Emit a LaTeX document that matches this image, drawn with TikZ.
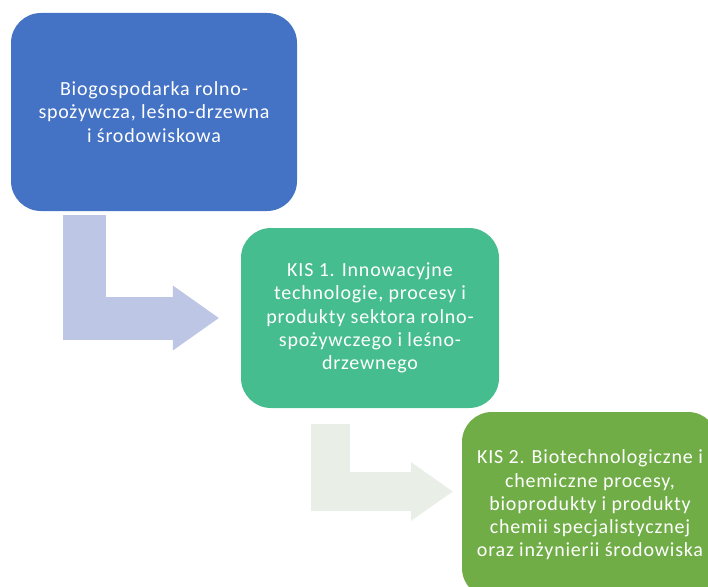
\documentclass[tikz,border=0pt]{standalone}
\usepackage{fontspec}
\setmainfont[LetterSpace=4]{Carlito}
\usetikzlibrary{arrows.meta}

\definecolor{boxblue}{HTML}{4472C4}
\definecolor{boxteal}{HTML}{45BD8F}
\definecolor{boxgreen}{HTML}{70AD47}
\definecolor{arrblue}{HTML}{BDC7E5}
\definecolor{arrgreen}{HTML}{E9EEE6}

\tikzset{
  stage/.style={rectangle,rounded corners=30pt,inner sep=0pt,align=center,
    text=white,font=\fontsize{20}{23.3}\selectfont},
  bentarrow/.style={line join=miter,line cap=butt}
}

\begin{document}
\begin{tikzpicture}[x=1pt,y=-1pt]
                      \clip(0,0)rectangle(708,586);
                      \node[stage,fill=boxblue,minimum width=286pt,minimum height=198pt](b1)at(154,112)
                        {Biogospodarka rolno-\\spożywcza, leśno-drzewna\\i środowiskowa};
                      \node[stage,fill=boxteal,minimum width=258pt,minimum height=180pt](b2)at(370,318)
                        {KIS 1. Innowacyjne\\technologie, procesy i\\produkty sektora rolno-\\spożywczego i leśno-\\drzewnego};
                      \node[stage,fill=boxgreen,minimum width=256pt,minimum height=186pt](b3)at(590,505)
                        {KIS 2. Biotechnologiczne i\\chemiczne procesy,\\bioprodukty i produkty\\chemii specjalistycznej\\oraz inżynierii środowiska};
                      \draw[bentarrow,arrblue,line width=43pt,-{Triangle[length=46pt,width=65pt,line width=0pt]}]
                        ([xshift=-69.5pt,yshift=-4pt]b1.south)|-([xshift=-22pt]b2.west);
                      \draw[bentarrow,arrgreen,line width=39pt,-{Triangle[length=42pt,width=59pt,line width=0pt]}]
                        ([xshift=-39.5pt,yshift=-16pt]b2.south)|-([xshift=-9pt,yshift=13.5pt]b3.west);
                  \end{tikzpicture}
\end{document}
